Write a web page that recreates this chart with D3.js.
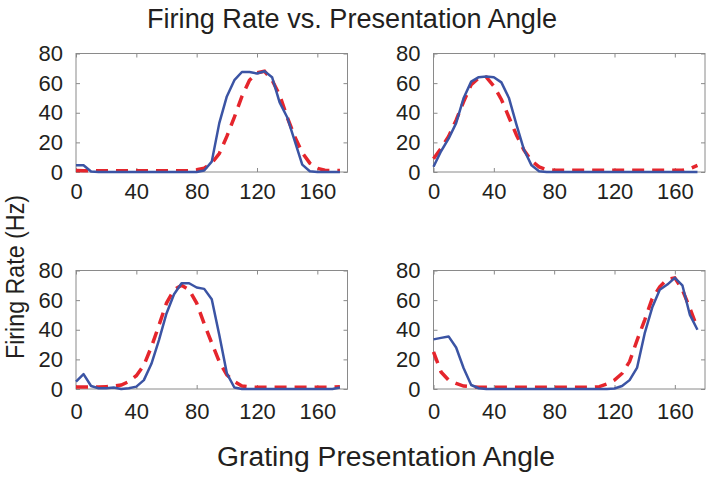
<!DOCTYPE html>
<html>
<head>
<meta charset="utf-8">
<script src="https://cdn.jsdelivr.net/npm/d3@7"></script>
<style>
  html, body { margin: 0; padding: 0; background: #fff; }
  svg { display: block; }
</style>
</head>
<body>
<svg id="chart" width="708" height="477"></svg>
<script>
// ---- data ----
const angles = [0,5,10,15,20,25,30,35,40,45,50,55,60,65,70,75,80,85,90,95,100,105,110,115,120,125,130,135,140,145,150,155,160,165,170,175];
const xTicks = [0, 40, 80, 120, 160];
const yTicks = [0, 20, 40, 60, 80];

const measured1 = [4.5,4.5,0.3,0,0,0,0,0,0,0,0,0,0,0,0,0,0,1,7,33,51,62,67.5,67.5,66.5,68,64,47,37,21,5,0.5,0,0,0,0];
const model1    = [1,0.8,0.8,0.8,0.8,0.8,0.8,0.8,0.8,0.8,0.8,0.8,0.8,0.8,0.8,0.8,1.5,2.5,6,12.5,24,37,51,62,67,68,62,52,37,24,13,6,2.5,1.2,1,1];

const measured2 = [3.5,14,22.5,33,50,61,64,64.5,64,60.5,50,32,15,4.5,0.5,0,0,0,0,0,0,0,0,0,0,0,0,0,0,0,0,0,0,0,0,0];
const model2    = [9,16,24,35,47.5,59,63.5,64,58,49,37,25,14.7,7.5,3.4,1.6,1.2,1.2,1.2,1.2,1.2,1.2,1.2,1.2,1.2,1.2,1.2,1.2,1.2,1.2,1.2,1.2,1.2,1.2,2.3,4.5];

const measured3 = [5,10,2,0.5,0.5,1,0,0.5,1.6,6,17,33,51,64,71.4,71.4,68.5,67.6,60.6,36.5,10.6,1,0,0,0,0,0,0,0,0,0,0,0,0,0,1];
const model3    = [1.3,1.3,1.3,1.3,1.6,2,2.7,5,9,16,28.5,43,58,67,70,67,58,44,31,18.5,9.5,5,2,1.4,1.2,1.2,1.2,1.2,1.2,1.2,1.2,1.2,1.2,1.2,1.2,1.6];

const measured4 = [33.5,34.5,35.5,28,14,2.7,0.5,0,0,0,0,0,0,0,0,0,0,0,0,0,0,0,0,0,0.3,2,6,14.5,37.5,55,67,70.5,75,70,50,40];
const model4    = [25,11.5,6,3.8,2,1.6,1.2,1.2,1.2,1.2,1.2,1.2,1.2,1.2,1.2,1.2,1.2,1.2,1.2,1.2,1.2,1.2,1.6,3.4,6,10.5,18.5,33,46.5,61,69,74,75,67,54.5,41];

const titleText = "Firing Rate vs. Presentation Angle";
const xLabelText = "Grating Presentation Angle";
const yLabelText = "Firing Rate (Hz)";

// ---- layout ----
const panels = [
  {measured: measured1, model: model1, x0: 76,  y0: 53.5, labelOff: 11},
  {measured: measured2, model: model2, x0: 433.5, y0: 53.5, labelOff: 11},
  {measured: measured3, model: model3, x0: 76,  y0: 270.5, labelOff: 14},
  {measured: measured4, model: model4, x0: 433.5, y0: 270.5, labelOff: 14}
];
const pw = 271.5, ph = 118.5;
const textColor = "#231f20";
const boxColor = "#8a8a8a";
const blue = "#3b54a4";
const red = "#e5252c";
const tickFont = "'Liberation Sans', Arial, sans-serif";

const svg = d3.select("#chart");

panels.forEach(p => {
  const x = d3.scaleLinear().domain([0, 180]).range([p.x0, p.x0 + pw]);
  const y = d3.scaleLinear().domain([0, 80]).range([p.y0 + ph, p.y0]);
  const g = svg.append("g");

  const bottom = g.append("g").attr("transform", `translate(0,${p.y0 + ph})`)
    .call(d3.axisBottom(x).tickValues(xTicks).tickSizeInner(-4).tickSizeOuter(0).tickPadding(p.labelOff));
  const top = g.append("g").attr("transform", `translate(0,${p.y0})`)
    .call(d3.axisTop(x).tickValues(xTicks).tickSizeInner(-4).tickSizeOuter(0).tickFormat(""));
  const left = g.append("g").attr("transform", `translate(${p.x0},0)`)
    .call(d3.axisLeft(y).tickValues(yTicks).tickSizeInner(-4).tickSizeOuter(0).tickPadding(13));
  const right = g.append("g").attr("transform", `translate(${p.x0 + pw},0)`)
    .call(d3.axisRight(y).tickValues(yTicks).tickSizeInner(-4).tickSizeOuter(0).tickFormat(""));

  [bottom, top, left, right].forEach(a => {
    a.select(".domain").remove();
    a.selectAll(".tick line").attr("stroke", boxColor).attr("stroke-width", 1);
    a.selectAll(".tick text")
      .attr("fill", textColor)
      .style("font-family", tickFont)
      .style("font-size", "22px");
  });

  g.append("rect")
    .attr("x", p.x0).attr("y", p.y0)
    .attr("width", pw).attr("height", ph)
    .attr("fill", "none").attr("stroke", boxColor).attr("stroke-width", 1);

  const line = d3.line().x((d, i) => x(angles[i])).y(d => y(d));

  g.append("path").datum(p.model)
    .attr("d", line)
    .attr("fill", "none")
    .attr("stroke", red)
    .attr("stroke-width", 3.5)
    .attr("stroke-dasharray", "12,8");

  g.append("path").datum(p.measured)
    .attr("d", line)
    .attr("fill", "none")
    .attr("stroke", blue)
    .attr("stroke-width", 2.5)
    .attr("stroke-linejoin", "round");
});

const labelFont = "'Liberation Sans', Arial, Helvetica, sans-serif";

svg.append("text")
  .attr("x", 352).attr("y", 28)
  .attr("text-anchor", "middle")
  .attr("fill", textColor)
  .style("font-family", labelFont)
  .style("font-size", "27px")
  .attr("textLength", 410)
  .attr("lengthAdjust", "spacingAndGlyphs")
  .text(titleText);

svg.append("text")
  .attr("x", 386).attr("y", 466)
  .attr("text-anchor", "middle")
  .attr("fill", textColor)
  .style("font-family", labelFont)
  .style("font-size", "27px")
  .attr("textLength", 338)
  .attr("lengthAdjust", "spacingAndGlyphs")
  .text(xLabelText);

svg.append("text")
  .attr("transform", "translate(24,277) rotate(-90)")
  .attr("text-anchor", "middle")
  .attr("fill", textColor)
  .style("font-family", labelFont)
  .style("font-size", "26px")
  .attr("textLength", 164)
  .attr("lengthAdjust", "spacingAndGlyphs")
  .text(yLabelText);
</script>
</body>
</html>
